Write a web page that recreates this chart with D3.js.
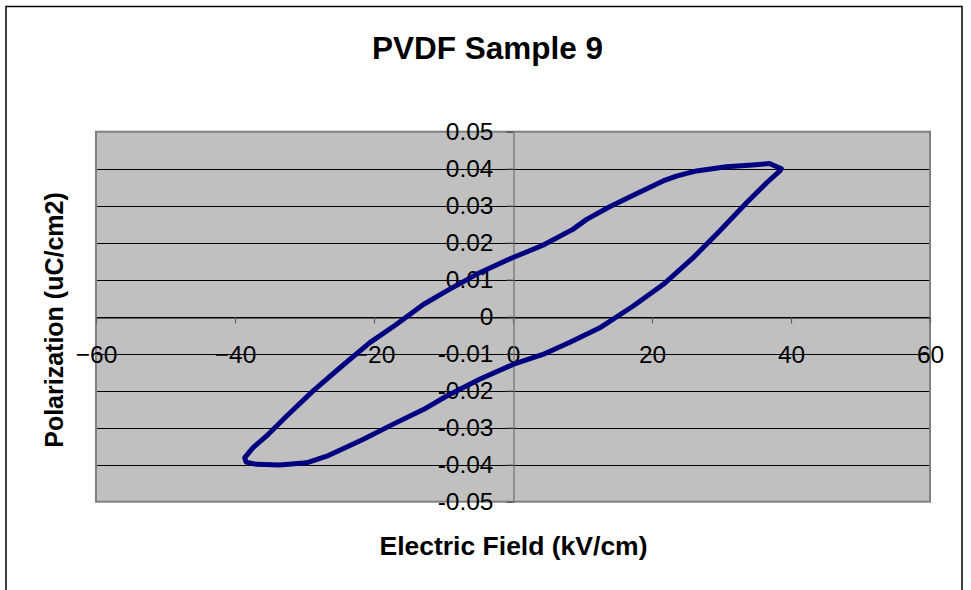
<!DOCTYPE html>
<html>
<head>
<meta charset="utf-8">
<script src="https://cdn.jsdelivr.net/npm/d3@7"></script>
<style>
  html, body { margin: 0; padding: 0; background: #fff; }
  svg { display: block; font-family: "Liberation Sans", Arial, sans-serif; }
</style>
</head>
<body>
<svg id="chart" width="971" height="590"></svg>
<script>
// ---- Data ----
const title = "PVDF Sample 9";
const xLabel = "Electric Field (kV/cm)";
const yLabel = "Polarization (uC/cm2)";

const xTicks = [-60, -40, -20, 0, 20, 40, 60];
const yTicks = [-0.05, -0.04, -0.03, -0.02, -0.01, 0, 0.01, 0.02, 0.03, 0.04, 0.05];

// Electric field (kV/cm), loop traced from the positive tip along the upper branch, then back along the lower branch
const fieldValues = [
  38.6, 36.9, 34.5, 30.7, 26.4, 23.5, 21.6, 17.3, 13.9, 10.6, 8.6, 4.3, 0, -4.8, -9.6, -12.9,
  -16.8, -20.6, -24.9, -28.8, -32.6, -35.5, -37.4, -38.6, -38.4,
  -36.9, -33.6, -29.7, -26.8, -21.6, -17.3, -12.9, -9.6, -4.8, 0, 4.3, 8.2, 12.5, 17.3,
  21.6, 25.9, 29.7, 33.6, 36.5, 38.4, 38.6
];
// Polarization (uC/cm2)
const polarizationValues = [
  0.0400, 0.0414, 0.0410, 0.0405, 0.0394, 0.0380, 0.0367, 0.0328, 0.0297, 0.0263, 0.0236, 0.0193, 0.0160, 0.0119, 0.0069, 0.0033,
  -0.0021, -0.0070, -0.0138, -0.0201, -0.0269, -0.0323, -0.0354, -0.0381, -0.0393,
  -0.0399, -0.0401, -0.0395, -0.0377, -0.0332, -0.0291, -0.0251, -0.0215, -0.0169, -0.0129, -0.0102, -0.0069, -0.0030, 0.0029,
  0.0087, 0.0159, 0.0231, 0.0308, 0.0362, 0.0394, 0.0400
];

// ---- Layout ----
const W = 971, H = 590;
const plot = { left: 96, right: 930, top: 131.7, bottom: 501.7 };

const svg = d3.select("#chart");

// chart area border
svg.append("path")
  .attr("d", `M6,${H} L6,6.5 L962,6.5 L962,${H}`)
  .attr("fill", "none").attr("stroke", "#000").attr("stroke-width", 1.5);

const x = d3.scaleLinear().domain([-60, 60]).range([plot.left, plot.right]);
const y = d3.scaleLinear().domain([-0.05, 0.05]).range([plot.bottom, plot.top]);

// plot background
svg.append("rect")
  .attr("x", plot.left).attr("y", plot.top)
  .attr("width", plot.right - plot.left).attr("height", plot.bottom - plot.top)
  .attr("fill", "#C0C0C0");

// gridlines
svg.append("g").selectAll("line")
  .data(yTicks.filter(t => Math.abs(t) < 0.049))
  .join("line")
  .attr("x1", plot.left).attr("x2", plot.right)
  .attr("y1", d => Math.round(y(d)) + 0.5).attr("y2", d => Math.round(y(d)) + 0.5)
  .attr("stroke", "#000").attr("stroke-width", 1);

// plot border
svg.append("rect")
  .attr("x", plot.left).attr("y", plot.top)
  .attr("width", plot.right - plot.left).attr("height", plot.bottom - plot.top)
  .attr("fill", "none").attr("stroke", "#808080").attr("stroke-width", 2);

// x axis (crossing at y=0)
const xAxis = svg.append("g")
  .attr("transform", `translate(0,${Math.round(y(0)) + 0.5})`)
  .call(d3.axisBottom(x).tickValues(xTicks).tickFormat(d3.format("d")).tickSize(6).tickPadding(22).tickSizeOuter(0));
xAxis.select(".domain").attr("stroke", "#000");
xAxis.selectAll(".tick line").attr("stroke", "#606060").attr("stroke-width", 1.2);
xAxis.selectAll(".tick text").attr("font-size", 24.5).attr("fill", "#000")
  .attr("font-family", "'Liberation Sans', Arial, sans-serif");

// y axis (crossing at x=0)
const yAxis = svg.append("g")
  .attr("transform", `translate(${Math.round(x(0)) + 0.5},0)`)
  .call(d3.axisLeft(y).tickValues(yTicks).tickFormat(d => d === 0 ? "0" : d3.format(".2f")(d).replace("−", "-")).tickSize(7).tickPadding(13).tickSizeOuter(0));
yAxis.select(".domain").attr("stroke", "#707070").attr("stroke-width", 1.2);
yAxis.selectAll(".tick line").attr("stroke", "#404040").attr("stroke-width", 1);
yAxis.selectAll(".tick text").attr("font-size", 24.5).attr("fill", "#000")
  .attr("font-family", "'Liberation Sans', Arial, sans-serif");

// hysteresis loop
const pts = fieldValues.map((v, i) => [v, polarizationValues[i]]);
svg.append("path")
  .datum(pts)
  .attr("d", d3.line().x(d => x(d[0])).y(d => y(d[1])).curve(d3.curveLinear))
  .attr("fill", "none")
  .attr("stroke", "#000080")
  .attr("stroke-width", 5)
  .attr("stroke-linejoin", "round")
  .attr("stroke-linecap", "round");

// titles
svg.append("text")
  .attr("x", 487.5).attr("y", 58.5)
  .attr("text-anchor", "middle")
  .attr("font-size", 31.5).attr("font-weight", "bold")
  .text(title);

svg.append("text")
  .attr("x", 513.5).attr("y", 555)
  .attr("text-anchor", "middle")
  .attr("font-size", 26.5).attr("font-weight", "bold")
  .text(xLabel);

svg.append("text")
  .attr("transform", "translate(63,320) rotate(-90)")
  .attr("text-anchor", "middle")
  .attr("font-size", 25).attr("font-weight", "bold")
  .text(yLabel);
</script>
</body>
</html>
